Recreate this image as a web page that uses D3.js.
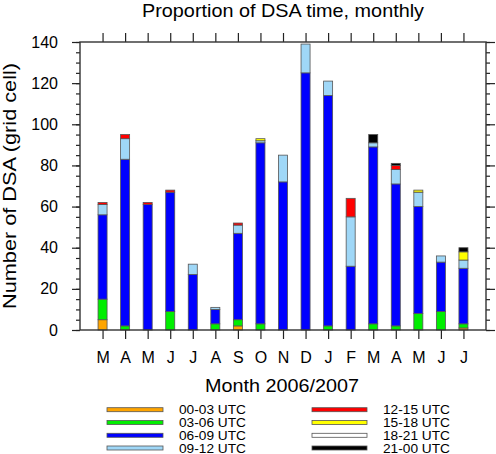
<!DOCTYPE html>
<html><head><meta charset="utf-8">
<script src="https://cdn.jsdelivr.net/npm/d3@7"></script>
<style>body{margin:0;background:#fff}svg{display:block}text{font-family:"Liberation Sans",Arial,Helvetica,sans-serif;fill:#000}</style>
</head><body><svg id="c" width="496" height="454"></svg>
<script>
const months = ["M","A","M","J","J","A","S","O","N","D","J","F","M","A","M","J","J"];
const seriesNames = ["00-03 UTC","03-06 UTC","06-09 UTC","09-12 UTC","12-15 UTC","15-18 UTC","18-21 UTC","21-00 UTC"];
const seriesColors = ["#ffa500","#00ee00","#0000ff","#9fd7f7","#ff0000","#ffff00","#ffffff","#000000"];
const s0003 = [5,0,0,0,0,0,2,0,0,0,0,0,0,0,0,0,1];
const s0306 = [10,2,0,9,0,3,3,3,0,0,2,0,3,2,8,9,2];
const s0609 = [41,81,61,58,27,7,42,88,72,125,112,31,86,69,52,24,27];
const s0912 = [5,10,0,0,5,1,4,1,13,14,7,24,2,7,7,3,4];
const s1215 = [1,2,1,1,0,0,1,0,0,0,0,9,0,2,0,0,0];
const s1518 = [0,0,0,0,0,0,0,1,0,0,0,0,0,0,1,0,4];
const s1821 = [0,0,0,0,0,0,0,0,0,0,0,0,0,0,0,0,0];
const s2100 = [0,0,0,0,0,0,0,0,0,0,0,0,4,1,0,0,2];
const yTicks = [0,20,40,60,80,100,120,140];

const seriesVals = [s0003,s0306,s0609,s0912,s1215,s1518,s1821,s2100];
const table = months.map((m,i)=>{const o={idx:i+1}; seriesNames.forEach((n,k)=>o[n]=seriesVals[k][i]); return o;});

const svg = d3.select("#c");
const L=80,R=486,T=42,B=330;
const x = d3.scaleLinear().domain([0,18]).range([L,R]);
const y = d3.scaleLinear().domain([0,140]).range([B,T]);
const barW = x(0.4)-x(0);

const stack = d3.stack().keys(seriesNames)(table);
stack.forEach((layer,k)=>{
  svg.append("g").selectAll("rect").data(layer.filter(d=>d[1]-d[0]>0)).join("rect")
    .attr("x",d=>x(d.data.idx)-barW/2).attr("width",barW)
    .attr("y",d=>y(d[1])).attr("height",d=>y(d[0])-y(d[1]))
    .attr("fill",seriesColors[k]).attr("stroke","#555").attr("stroke-width",0.8);
});

const minor = d3.range(0,141,5);
function styleAxis(g){g.select(".domain").remove(); g.selectAll("line").attr("stroke","#222").attr("stroke-width",1.2);}
svg.append("g").attr("transform",`translate(${L},0)`).call(d3.axisLeft(y).tickValues(minor).tickSize(4).tickFormat("")).call(styleAxis);
svg.append("g").attr("transform",`translate(${L},0)`).call(d3.axisLeft(y).tickValues(yTicks).tickSize(8).tickPadding(14).tickFormat(d3.format("d")))
  .call(styleAxis).attr("font-size",16).attr("font-family","Liberation Sans, Arial, sans-serif");
svg.append("g").attr("transform",`translate(${R},0)`).call(d3.axisRight(y).tickValues(minor).tickSize(4).tickFormat("")).call(styleAxis);
svg.append("g").attr("transform",`translate(${R},0)`).call(d3.axisRight(y).tickValues(yTicks).tickSize(9).tickFormat("")).call(styleAxis);
const xt = d3.range(1,18);
svg.append("g").attr("transform",`translate(0,${B})`).call(d3.axisBottom(x).tickValues(xt).tickSize(9).tickPadding(12.5).tickFormat(d=>months[d-1]))
  .call(styleAxis).attr("font-size",16).attr("font-family","Liberation Sans, Arial, sans-serif");
svg.append("g").attr("transform",`translate(0,${T})`).call(d3.axisTop(x).tickValues(xt).tickSize(9).tickFormat("")).call(styleAxis);
svg.selectAll(".tick text").attr("fill","#000");

svg.append("rect").attr("x",L).attr("y",T).attr("width",R-L).attr("height",B-T)
  .attr("fill","none").attr("stroke","#333").attr("stroke-width",1.4);

svg.append("text").attr("x",283).attr("y",17).attr("text-anchor","middle").attr("font-size",19)
  .attr("textLength",282).attr("lengthAdjust","spacingAndGlyphs").text("Proportion of DSA time, monthly");
svg.append("text").attr("x",282).attr("y",392).attr("text-anchor","middle").attr("font-size",19)
  .attr("textLength",154).attr("lengthAdjust","spacingAndGlyphs").text("Month 2006/2007");
svg.append("text").attr("transform","translate(16,186) rotate(-90)").attr("text-anchor","middle").attr("font-size",19)
  .attr("textLength",246).attr("lengthAdjust","spacingAndGlyphs").text("Number of DSA (grid cell)");

const rowY = [409.7,422.5,435.3,448.0];
const lg = svg.append("g");
seriesNames.forEach((n,k)=>{
  const col = Math.floor(k/4), r = k%4;
  const x0 = col===0?107:312, x1 = col===0?163:367, tx = col===0?179:383;
  lg.append("rect").attr("x",x0).attr("y",rowY[r]-2).attr("width",x1-x0).attr("height",4)
    .attr("fill",seriesColors[k]).attr("stroke","#555").attr("stroke-width",0.8);
  lg.append("text").attr("x",tx).attr("y",rowY[r]+4.6).attr("font-size",13).attr("textLength",67).attr("lengthAdjust","spacingAndGlyphs").text(n);
});
</script></body></html>
